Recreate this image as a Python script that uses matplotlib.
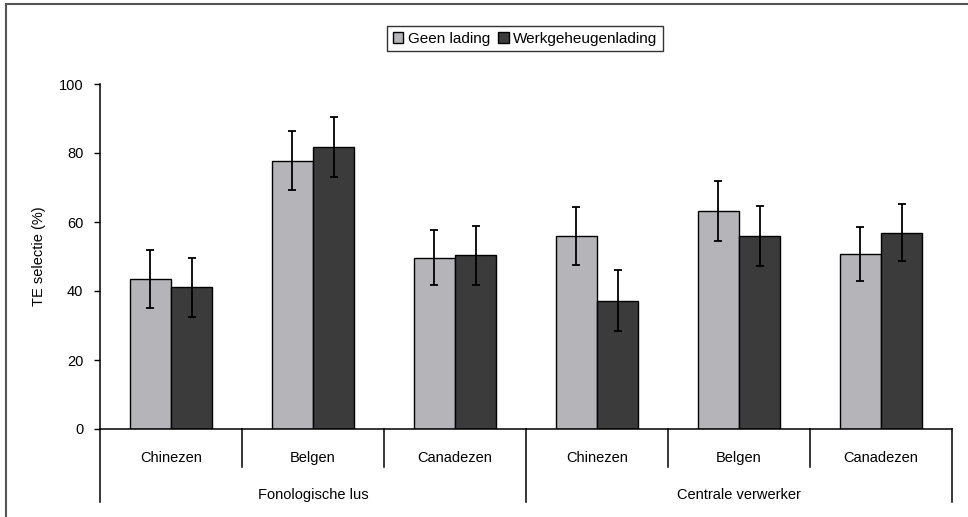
import numpy as np
import matplotlib
matplotlib.use('Agg')
import matplotlib.pyplot as plt
from matplotlib.lines import Line2D

plt.rcParams['font.family'] = ['Liberation Sans', 'DejaVu Sans']

# data
categories = ['Chinezen', 'Belgen', 'Canadezen', 'Chinezen', 'Belgen', 'Canadezen']
groups = ['Fonologische lus', 'Centrale verwerker']
geen = [43.5, 77.8, 49.7, 55.9, 63.3, 50.7]
geen_err = [8.5, 8.5, 8.0, 8.5, 8.7, 7.8]
werk = [41.1, 81.8, 50.3, 37.2, 55.9, 56.9]
werk_err = [8.6, 8.7, 8.5, 8.8, 8.7, 8.2]
series_names = ['Geen lading', 'Werkgeheugenlading']

light = '#b5b5b9'
dark = '#3b3b3b'

fig = plt.figure(figsize=(9.68, 5.17), dpi=100)
ax = fig.add_axes([100 / 968, 1 - 429 / 517, 852 / 968, 345 / 517])

x = np.arange(len(categories)) + 0.5
w = 0.29
ekw = dict(ecolor='black', elinewidth=1.3, capsize=3.2, capthick=1.3)
ax.bar(x - w / 2, geen, w, color=light, edgecolor='black', linewidth=1.0,
       yerr=geen_err, error_kw=ekw, label=series_names[0])
ax.bar(x + w / 2, werk, w, color=dark, edgecolor='black', linewidth=1.0,
       yerr=werk_err, error_kw=ekw, label=series_names[1])

ax.set_xlim(0, 6)
ax.set_ylim(0, 100)
ax.set_yticks([0, 20, 40, 60, 80, 100])
ax.tick_params(axis='y', direction='out', length=4, width=1, labelsize=10.5, pad=8)
ax.set_xticks([])
for s in ['top', 'right']:
    ax.spines[s].set_visible(False)
ax.spines['left'].set_linewidth(1.1)
ax.spines['bottom'].set_linewidth(1.1)
ax.set_ylabel('TE selectie (%)', fontsize=10.5, labelpad=9)

# multi-level category axis
trans = ax.get_xaxis_transform()
for i in range(1, 6):
    if i == 3:
        continue
    ax.add_line(Line2D([i, i], [0, -0.11], transform=trans, color='black', lw=1.1, clip_on=False))
for i in [0, 3, 6]:
    ax.add_line(Line2D([i, i], [0, -0.212], transform=trans, color='black', lw=1.1, clip_on=False))
for xi, c in zip(x, categories):
    ax.text(xi, -0.084, c, transform=trans, ha='center', va='center', fontsize=10.5)
for gi, g in enumerate(groups):
    ax.text(1.5 + 3 * gi, -0.191, g, transform=trans, ha='center', va='center', fontsize=10.5)

# outer frame (top and left visible)
fig.add_artist(Line2D([6 / 968, 1], [1 - 4 / 517, 1 - 4 / 517], transform=fig.transFigure,
                      color='#555555', lw=1.5))
fig.add_artist(Line2D([6 / 968, 6 / 968], [0, 1 - 4 / 517], transform=fig.transFigure,
                      color='#555555', lw=1.5))

leg = fig.legend(loc='center', bbox_to_anchor=(525 / 968, 1 - 38.5 / 517), ncol=2,
                 frameon=True, fancybox=False, edgecolor='black', fontsize=11,
                 handlelength=0.7, handleheight=0.7, handletextpad=0.3, columnspacing=0.5,
                 borderpad=0.35, borderaxespad=0)
leg.get_frame().set_linewidth(1.0)

fig.savefig('out.png', dpi=100)
